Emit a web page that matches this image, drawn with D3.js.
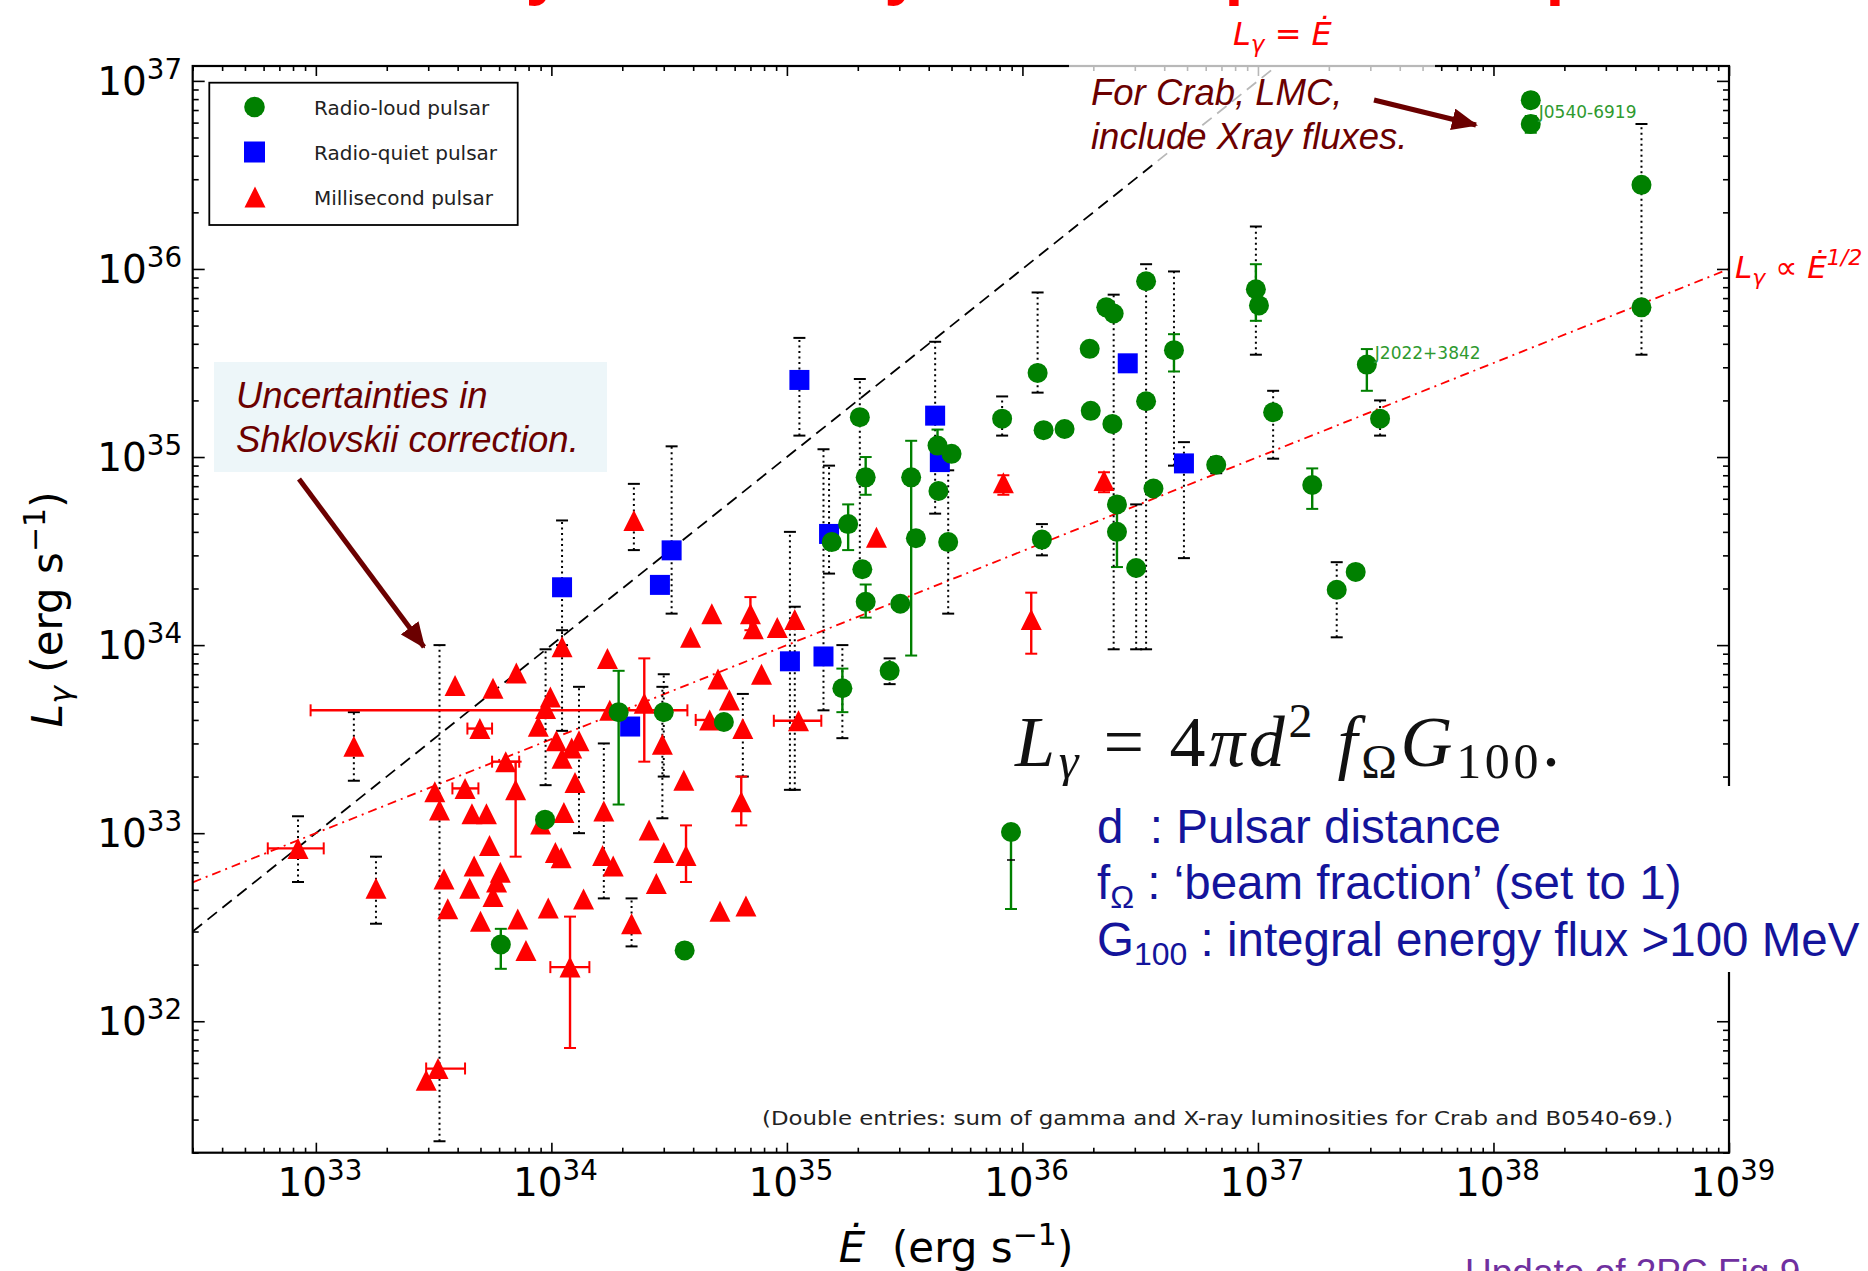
<!DOCTYPE html>
<html>
<head>
<meta charset="utf-8">
<script src="https://cdn.jsdelivr.net/npm/d3@7"></script>
<style>
  html, body { margin: 0; padding: 0; background: #fff; }
  svg { display: block; }
</style>
</head>
<body>
<svg id="chart" width="1868" height="1271"></svg>
<script>
// ---------------------------------------------------------------------------
// Data: gamma-ray luminosity vs spin-down power for Fermi pulsars
// ---------------------------------------------------------------------------

// Radio-loud pulsars: [Edot, Lgamma, dotted low, dotted high, bar low, bar high]
const radioLoud = [
  [1.44e38, 7.9e36, null, null, 7.3e36, 8.6e36],
  [1.44e38, 5.9e36, null, null, 5.3e36, 6.5e36],
  [4.25e38, 2.8e36, 3.5e35, 5.9e36, null, null],
  [4.25e38, 6.25e35, null, null, null, null],
  [2.9e37, 3.1e35, null, null, 2.25e35, 3.75e35],
  [3.3e37, 1.6e35, 1.3e35, 2.0e35, null, null],
  [2.6e37, 2.45e34, null, null, null, null],
  [2.16e37, 1.97e34, 1.1e34, 2.76e34, null, null],
  [1.7e37, 7.1e34, null, null, 5.3e34, 8.7e34],
  [1.16e37, 1.73e35, 9.8e34, 2.25e35, null, null],
  [9.8e36, 7.8e35, 3.5e35, 1.68e36, 5.3e35, 1.06e36],
  [1.01e37, 6.4e35, null, null, null, null],
  [6.65e36, 9.1e34, 8.2e34, 1.0e35, null, null],
  [4.4e36, 3.7e35, 9.0e34, 9.7e35, 2.85e35, 4.5e35],
  [3.35e36, 8.6e35, 9.5e33, 1.06e36, null, null],
  [3.35e36, 1.98e35, null, null, null, null],
  [3.6e36, 6.8e34, null, null, null, null],
  [3.04e36, 2.57e34, 9.5e33, 5.6e34, null, null],
  [2.52e36, 4.0e34, null, null, 2.6e34, 5.5e34],
  [2.52e36, 5.6e34, null, null, null, null],
  [2.41e36, 1.5e35, null, null, null, null],
  [2.27e36, 6.25e35, null, null, null, null],
  [2.44e36, 5.8e35, 9.5e33, 7.3e35, null, null],
  [1.93e36, 3.76e35, null, null, null, null],
  [1.95e36, 1.76e35, null, null, null, null],
  [1.16e36, 2.8e35, 2.2e35, 7.5e35, null, null],
  [1.23e36, 1.39e35, null, null, null, null],
  [1.51e36, 1.41e35, null, null, null, null],
  [8.2e35, 1.6e35, 1.3e35, 2.1e35, null, null],
  [1.21e36, 3.64e34, 3.0e34, 4.4e34, null, null],
  [5.0e35, 1.04e35, null, null, null, null],
  [4.36e35, 1.15e35, null, null, 9.0e34, 1.4e35],
  [4.4e35, 6.6e34, null, null, null, null],
  [4.84e35, 3.53e34, 1.47e34, 8.5e34, null, null],
  [3.53e35, 3.7e34, null, null, null, null],
  [3.37e35, 7.8e34, null, null, 8.8e33, 1.22e35],
  [3.03e35, 1.66e34, null, null, null, null],
  [2.73e35, 7.3e33, 6.2e33, 8.5e33, null, null],
  [2.16e35, 7.8e34, null, null, 6.3e34, 1.0e35],
  [2.16e35, 1.7e34, null, null, 1.4e34, 2.1e34],
  [2.09e35, 2.53e34, null, null, null, null],
  [1.82e35, 4.4e34, null, null, 3.2e34, 5.6e34],
  [2.04e35, 1.63e35, 2.5e34, 2.6e35, null, null],
  [1.55e35, 3.53e34, null, null, null, null],
  [1.72e35, 5.9e33, 3.2e33, 1.0e34, 4.4e33, 7.5e33],
  [5.4e34, 3.9e33, null, null, null, null],
  [3.0e34, 4.4e33, 2.0e33, 7.0e33, null, null],
  [1.93e34, 4.4e33, null, null, 1.42e33, 7.3e33],
  [9.4e33, 1.18e33, null, null, null, null],
  [6.1e33, 2.56e32, null, null, 1.9e32, 3.1e32],
  [3.68e34, 2.38e32, null, null, null, null]
];

// Radio-quiet pulsars: [Edot, Lgamma, dotted low, dotted high]
const radioQuiet = [
  [1.11e34, 2.03e34, 1.0e34, 4.6e34],
  [3.24e34, 3.19e34, 1.47e34, 1.14e35],
  [2.89e34, 2.09e34, null, null],
  [2.16e34, 3.69e33, null, null],
  [1.13e35, 2.57e35, 1.3e35, 4.3e35],
  [1.51e35, 3.9e34, 2.4e34, 9.0e34],
  [1.03e35, 8.2e33, 1.7e33, 4.0e34],
  [1.43e35, 8.7e33, 4.5e33, 1.1e35],
  [4.26e35, 1.66e35, 5.0e34, 4.1e35],
  [4.46e35, 9.4e34, null, null],
  [2.8e36, 3.15e35, null, null],
  [4.85e36, 9.25e34, 2.9e34, 1.2e35]
];

// Millisecond pulsars: [Edot, Lgamma, dotted low, dotted high, bar low, bar high, Edot low, Edot high]
const millisecond = [
  [8.4e32, 8.3e32, 5.5e32, 1.23e33, null, null, 6.25e32, 1.08e33],
  [1.45e33, 2.9e33, 1.9e33, 4.4e33, null, null, null, null],
  [1.8e33, 5.1e32, 3.3e32, 7.5e32, null, null, null, null],
  [2.94e33, 4.85e31, null, null, null, null, null, null],
  [3.3e33, 5.6e31, null, null, null, null, 2.94e33, 4.3e33],
  [3.9e33, 6.1e33, null, null, null, null, null, null],
  [5.65e33, 5.9e33, null, null, null, null, null, null],
  [7.1e33, 7.1e33, null, null, null, null, null, null],
  [3.2e33, 1.66e33, null, null, null, null, null, null],
  [3.35e33, 1.33e33, 2.3e31, 1.0e34, null, null, null, null],
  [3.5e33, 5.7e32, null, null, null, null, null, null],
  [3.63e33, 3.96e32, null, null, null, null, null, null],
  [4.3e33, 1.73e33, null, null, null, null, 3.8e33, 4.9e33],
  [4.6e33, 1.27e33, null, null, null, null, null, null],
  [4.97e33, 3.6e33, null, null, null, null, 4.4e33, 5.6e33],
  [4.7e33, 6.7e32, null, null, null, null, null, null],
  [5.3e33, 1.27e33, null, null, null, null, null, null],
  [5.46e33, 8.6e32, null, null, null, null, null, null],
  [5.85e33, 5.5e32, null, null, null, null, null, null],
  [6.07e33, 6.2e32, null, null, null, null, null, null],
  [5.65e33, 4.6e32, null, null, null, null, null, null],
  [4.5e33, 5.1e32, null, null, null, null, null, null],
  [5.0e33, 3.4e32, null, null, null, null, null, null],
  [6.4e33, 2.4e33, null, null, null, null, 5.6e33, 7.3e33],
  [7.05e33, 1.7e33, null, null, 7.5e32, 2.4e33, null, null],
  [7.2e33, 3.5e32, null, null, null, null, null, null],
  [7.8e33, 2.38e32, null, null, null, null, null, null],
  [8.8e33, 3.7e33, null, null, null, null, null, null],
  [9.45e33, 4.6e33, 1.8e33, 9.5e33, null, null, null, null],
  [9.9e33, 5.3e33, null, null, null, null, null, null],
  [9.0e33, 1.12e33, null, null, null, null, null, null],
  [9.7e33, 4.0e32, null, null, null, null, null, null],
  [1.04e34, 7.9e32, null, null, null, null, null, null],
  [1.1e34, 7.4e32, null, null, null, null, null, null],
  [1.11e34, 9.8e33, 3.5e33, 1.2e34, null, null, null, null],
  [1.05e34, 3.1e33, null, null, null, null, null, null],
  [1.11e34, 2.5e33, null, null, null, null, null, null],
  [1.22e34, 2.84e33, null, null, null, null, null, null],
  [1.31e34, 3.1e33, 1.0e33, 6.0e33, null, null, null, null],
  [1.26e34, 1.86e33, null, null, null, null, null, null],
  [1.13e34, 1.29e33, null, null, null, null, null, null],
  [1.2e34, 1.94e32, null, null, 7.2e31, 3.6e32, 9.9e33, 1.45e34],
  [1.37e34, 4.46e32, null, null, null, null, null, null],
  [1.65e34, 7.6e32, null, null, null, null, null, null],
  [1.67e34, 1.31e33, 4.5e32, 3.0e33, null, null, null, null],
  [1.73e34, 8.5e33, null, null, null, null, null, null],
  [1.83e34, 6.7e32, null, null, null, null, null, null],
  [1.77e34, 4.5e33, null, null, null, null, 9.5e32, 3.78e34],
  [2.24e34, 4.6e34, 3.2e34, 7.2e34, null, null, null, null],
  [2.19e34, 3.3e32, 2.5e32, 4.5e32, null, null, null, null],
  [2.48e34, 4.9e33, null, null, 2.4e33, 8.5e33, null, null],
  [2.6e34, 1.04e33, null, null, null, null, null, null],
  [2.79e34, 5.4e32, null, null, null, null, null, null],
  [3.0e34, 7.9e32, null, null, null, null, null, null],
  [2.96e34, 2.97e33, 1.2e33, 6.0e33, null, null, null, null],
  [3.65e34, 1.91e33, null, null, null, null, null, null],
  [3.73e34, 7.6e32, null, null, 5.5e32, 1.1e33, null, null],
  [3.9e34, 1.1e34, null, null, null, null, null, null],
  [4.8e34, 1.47e34, null, null, null, null, null, null],
  [4.7e34, 4.0e33, null, null, null, null, 4.1e34, 5.4e34],
  [5.1e34, 6.6e33, null, null, null, null, null, null],
  [5.7e34, 5.1e33, null, null, null, null, null, null],
  [5.2e34, 3.85e32, null, null, null, null, null, null],
  [6.5e34, 3.6e33, 2.0e33, 5.5e33, null, null, null, null],
  [6.4e34, 1.47e33, null, null, 1.1e33, 2.0e33, null, null],
  [6.7e34, 4.1e32, null, null, null, null, null, null],
  [7.0e34, 1.47e34, null, null, 1.2e34, 1.8e34, null, null],
  [7.2e34, 1.22e34, null, null, null, null, null, null],
  [7.8e34, 7.0e33, null, null, null, null, null, null],
  [9.1e34, 1.24e34, null, null, null, null, null, null],
  [1.08e35, 1.37e34, 1.7e33, 1.6e34, null, null, null, null],
  [1.12e35, 3.96e33, null, null, null, null, 8.8e34, 1.4e35],
  [2.4e35, 3.74e34, null, null, null, null, null, null],
  [8.3e35, 7.3e34, null, null, 6.3e34, 8.0e34, null, null],
  [1.09e36, 1.37e34, null, null, 9.0e33, 1.9e34, null, null],
  [2.22e36, 7.5e34, null, null, 6.5e34, 8.3e34, null, null]
];

// Named sources: [Edot, Lgamma, label, label shift]
const namedSources = [
  [1.44e38, 6.8e36, "J0540-6919", 6],
  [2.9e37, 3.1e35, "J2022+3842", -6]
];

// Axis ranges and tick exponents
const xDomain = [3e32, 1e39];
const yDomain = [2e31, 1.2e37];
const xTickExps = [33, 34, 35, 36, 37, 38, 39];
const yTickExps = [32, 33, 34, 35, 36, 37];

const legendItems = ["Radio-loud pulsar", "Radio-quiet pulsar", "Millisecond pulsar"];
const formulaNotes = [
  ["d", "", "\u00A0 : Pulsar distance"],
  ["f", "\u03A9", " : \u2018beam fraction\u2019 (set to 1)"],
  ["G", "100", " : integral energy flux >100 MeV"]
];

// ---------------------------------------------------------------------------
// Layout
// ---------------------------------------------------------------------------
const plot = { left: 192.7, right: 1729, top: 66, bottom: 1152.7 };
const GREEN = "#008000", BLUE = "#0000ff", RED = "#ff0000", MAROON = "#6b0000";
const svg = d3.select("#chart");

const x = d3.scaleLog().domain(xDomain).range([plot.left, plot.right]);
const y = d3.scaleLog().domain(yDomain).range([plot.bottom, plot.top]);

const defs = svg.append("defs");
defs.append("clipPath").attr("id", "plotClip")
  .append("rect")
  .attr("x", plot.left).attr("y", plot.top)
  .attr("width", plot.right - plot.left).attr("height", plot.bottom - plot.top);
defs.append("marker")
  .attr("id", "arrowHead")
  .attr("markerUnits", "userSpaceOnUse")
  .attr("markerWidth", 26).attr("markerHeight", 22)
  .attr("refX", 24).attr("refY", 11)
  .attr("orient", "auto")
  .append("path").attr("d", "M0,0 L26,11 L0,22 Z").attr("fill", MAROON);

// Slide title running off the top edge
svg.append("text")
  .attr("x", 189).attr("y", -8)
  .attr("font-family", "Liberation Sans, Arial, sans-serif")
  .attr("font-weight", "bold")
  .attr("font-size", 68)
  .attr("fill", RED)
  .text("Gamma-ray luminosity versus Spin-down power");

// ---------------------------------------------------------------------------
// Reference lines
// ---------------------------------------------------------------------------
const clipped = svg.append("g").attr("clip-path", "url(#plotClip)");
const lineGen = d3.line().x(d => x(d[0])).y(d => y(d[1]));

// L = Edot
clipped.append("path")
  .datum(xDomain.map(e => [e, e]))
  .attr("d", lineGen)
  .attr("fill", "none").attr("stroke", "#000")
  .attr("stroke-width", 1.8).attr("stroke-dasharray", "12,7");

// L proportional to Edot^(1/2)
clipped.append("path")
  .datum(xDomain.map(e => [e, Math.sqrt(e * 1e33)]))
  .attr("d", lineGen)
  .attr("fill", "none").attr("stroke", RED)
  .attr("stroke-width", 1.8).attr("stroke-dasharray", "9,5,2,5");

// ---------------------------------------------------------------------------
// Error bars
// ---------------------------------------------------------------------------
const bars = clipped.append("g");
const CAP = 6;

function vBar(ev, lo, hi, color, dotted) {
  if (lo == null || hi == null) return;
  const px = x(ev);
  bars.append("line")
    .attr("x1", px).attr("x2", px).attr("y1", y(lo)).attr("y2", y(hi))
    .attr("stroke", color).attr("stroke-width", dotted ? 2 : 2.4)
    .attr("stroke-dasharray", dotted ? "2,3.5" : null);
  [lo, hi].forEach(v => {
    bars.append("line")
      .attr("x1", px - CAP).attr("x2", px + CAP).attr("y1", y(v)).attr("y2", y(v))
      .attr("stroke", color).attr("stroke-width", 2);
  });
}
function hBar(lv, lo, hi, color) {
  if (lo == null || hi == null) return;
  const py = y(lv);
  bars.append("line")
    .attr("x1", x(lo)).attr("x2", x(hi)).attr("y1", py).attr("y2", py)
    .attr("stroke", color).attr("stroke-width", 2.4);
  [lo, hi].forEach(v => {
    bars.append("line")
      .attr("x1", x(v)).attr("x2", x(v)).attr("y1", py - CAP).attr("y2", py + CAP)
      .attr("stroke", color).attr("stroke-width", 2);
  });
}

millisecond.forEach(d => {
  vBar(d[0], d[2], d[3], "#000", true);
  vBar(d[0], d[4], d[5], RED, false);
  hBar(d[1], d[6], d[7], RED);
});
radioQuiet.forEach(d => vBar(d[0], d[2], d[3], "#000", true));
radioLoud.forEach(d => {
  vBar(d[0], d[2], d[3], "#000", true);
  vBar(d[0], d[4], d[5], GREEN, false);
});

// ---------------------------------------------------------------------------
// Markers
// ---------------------------------------------------------------------------
const TRI = 21, SQ = 20, RAD = 10;
const triPath = `M0,${-TRI / 2}L${TRI / 2},${TRI / 2}L${-TRI / 2},${TRI / 2}Z`;
const marks = clipped.append("g");

marks.selectAll("path.msp").data(millisecond).join("path")
  .attr("class", "msp")
  .attr("d", triPath)
  .attr("transform", d => `translate(${x(d[0])},${y(d[1])})`)
  .attr("fill", RED);

marks.selectAll("rect.rq").data(radioQuiet).join("rect")
  .attr("class", "rq")
  .attr("x", d => x(d[0]) - SQ / 2).attr("y", d => y(d[1]) - SQ / 2)
  .attr("width", SQ).attr("height", SQ)
  .attr("fill", BLUE);

marks.selectAll("circle.rl").data(radioLoud).join("circle")
  .attr("class", "rl")
  .attr("cx", d => x(d[0])).attr("cy", d => y(d[1]))
  .attr("r", RAD)
  .attr("fill", GREEN);

// Source name labels
svg.selectAll("text.src").data(namedSources).join("text")
  .attr("class", "src")
  .attr("x", d => x(d[0]) + 8).attr("y", d => y(d[1]) + d[3])
  .attr("font-family", "DejaVu Sans, sans-serif")
  .attr("font-size", 17)
  .attr("fill", "#2f9a2f")
  .text(d => d[2]);

// ---------------------------------------------------------------------------
// Frame and ticks (inward, all four sides)
// ---------------------------------------------------------------------------
function minorTicks(dom) {
  const out = [];
  const e0 = Math.floor(Math.log10(dom[0])), e1 = Math.ceil(Math.log10(dom[1]));
  for (let e = e0; e <= e1; e++)
    for (let m = 2; m <= 9; m++) {
      const v = m * Math.pow(10, e);
      if (v >= dom[0] && v <= dom[1]) out.push(v);
    }
  return out;
}
const xMajor = xTickExps.map(e => Math.pow(10, e)).filter(v => v >= xDomain[0] && v <= xDomain[1]);
const yMajor = yTickExps.map(e => Math.pow(10, e)).filter(v => v >= yDomain[0] && v <= yDomain[1]);
const xMinor = minorTicks(xDomain), yMinor = minorTicks(yDomain);

const axes = svg.append("g");
function addAxis(gen, tx, ty, vals, size) {
  const g = axes.append("g").attr("transform", `translate(${tx},${ty})`)
    .call(gen.tickValues(vals).tickSize(-size).tickFormat(""));
  g.select(".domain").remove();
  g.selectAll(".tick line").attr("stroke", "#000").attr("stroke-width", 1.6);
}
addAxis(d3.axisBottom(x), 0, plot.bottom, xMajor, 10);
addAxis(d3.axisBottom(x), 0, plot.bottom, xMinor, 5);
addAxis(d3.axisTop(x), 0, plot.top, xMajor, 10);
addAxis(d3.axisTop(x), 0, plot.top, xMinor, 5);
addAxis(d3.axisLeft(y), plot.left, 0, yMajor, 12);
addAxis(d3.axisLeft(y), plot.left, 0, yMinor, 6);
addAxis(d3.axisRight(y), plot.right, 0, yMajor, 12);
addAxis(d3.axisRight(y), plot.right, 0, yMinor, 6);

axes.append("rect")
  .attr("x", plot.left).attr("y", plot.top)
  .attr("width", plot.right - plot.left).attr("height", plot.bottom - plot.top)
  .attr("fill", "none").attr("stroke", "#000").attr("stroke-width", 2.2);

// Tick labels as powers of ten
function powLabel(px, py, exp, anchor, size) {
  const t = axes.append("text")
    .attr("x", px).attr("y", py)
    .attr("text-anchor", anchor)
    .attr("font-family", "DejaVu Sans, sans-serif")
    .attr("font-size", size).attr("fill", "#000");
  t.append("tspan").text("10");
  t.append("tspan").attr("dy", -size * 0.42).attr("font-size", size * 0.71).text(exp);
}
xTickExps.forEach(e => powLabel(x(Math.pow(10, e)) + 4, 1196, e, "middle", 39));
yTickExps.forEach(e => powLabel(182, y(Math.pow(10, e)) + 14, e, "end", 39));

// Axis titles
const yTitle = axes.append("text")
  .attr("transform", `translate(62,${(plot.top + plot.bottom) / 2}) rotate(-90)`)
  .attr("text-anchor", "middle")
  .attr("font-family", "DejaVu Sans, sans-serif")
  .attr("font-size", 42).attr("fill", "#000");
yTitle.append("tspan").attr("font-style", "italic").text("L");
yTitle.append("tspan").attr("font-style", "italic").attr("font-size", 30).attr("dy", 9).text("\u03B3");
yTitle.append("tspan").attr("dy", -9).text(" (erg s");
yTitle.append("tspan").attr("font-size", 30).attr("dy", -17).text("\u22121");
yTitle.append("tspan").attr("dy", 17).text(")");

const xTitle = axes.append("text")
  .attr("x", 956).attr("y", 1262)
  .attr("text-anchor", "middle")
  .attr("font-family", "DejaVu Sans, sans-serif")
  .attr("font-size", 42).attr("fill", "#000");
xTitle.append("tspan").attr("font-style", "italic").text("\u0116");
xTitle.append("tspan").text("\u00A0 (erg s");
xTitle.append("tspan").attr("font-size", 30).attr("dy", -17).text("\u22121");
xTitle.append("tspan").attr("dy", 17).text(")");

// ---------------------------------------------------------------------------
// Legend
// ---------------------------------------------------------------------------
const legend = svg.append("g");
legend.append("rect")
  .attr("x", 209.3).attr("y", 82.7).attr("width", 308.4).attr("height", 142.3)
  .attr("fill", "#fff").attr("stroke", "#000").attr("stroke-width", 1.8);
const legendY = [107, 152, 197];
legend.append("circle").attr("cx", 254.5).attr("cy", legendY[0]).attr("r", 10.3).attr("fill", GREEN);
legend.append("rect").attr("x", 244).attr("y", legendY[1] - 10.5).attr("width", 21).attr("height", 21).attr("fill", BLUE);
legend.append("path").attr("d", triPath).attr("transform", `translate(255,${legendY[2]})`).attr("fill", RED);
legend.selectAll("text").data(legendItems).join("text")
  .attr("x", 314).attr("y", (d, i) => legendY[i] + 8)
  .attr("font-family", "DejaVu Sans, sans-serif")
  .attr("font-size", 20).attr("fill", "#222")
  .text(d => d);

// ---------------------------------------------------------------------------
// Line labels and notes
// ---------------------------------------------------------------------------
const lab1 = svg.append("text")
  .attr("x", 1233).attr("y", 45)
  .attr("font-family", "DejaVu Sans, sans-serif")
  .attr("font-size", 32).attr("fill", RED).attr("font-style", "italic");
lab1.append("tspan").text("L");
lab1.append("tspan").attr("font-size", 23).attr("dy", 7).text("\u03B3");
lab1.append("tspan").attr("dy", -7).text(" = \u0116");

const lab2 = svg.append("text")
  .attr("x", 1735).attr("y", 278)
  .attr("font-family", "DejaVu Sans, sans-serif")
  .attr("font-size", 31).attr("fill", RED).attr("font-style", "italic");
lab2.append("tspan").text("L");
lab2.append("tspan").attr("font-size", 22).attr("dy", 7).text("\u03B3");
lab2.append("tspan").attr("dy", -7).text(" \u221D \u0116");
lab2.append("tspan").attr("font-size", 22).attr("dy", -13).text("1/2");

svg.append("text")
  .attr("x", 762).attr("y", 1125)
  .attr("font-family", "DejaVu Sans, sans-serif")
  .attr("font-size", 19.5).attr("fill", "#222")
  .attr("textLength", 911).attr("lengthAdjust", "spacingAndGlyphs")
  .text("(Double entries: sum of gamma and X-ray luminosities for Crab and B0540-69.)");

// Faded panel behind the Crab / LMC note
svg.append("rect")
  .attr("x", 1069).attr("y", 58).attr("width", 366).attr("height", 105)
  .attr("fill", "#fff").attr("opacity", 0.72);

const crabNote = svg.append("text")
  .attr("font-family", "Liberation Sans, Arial, sans-serif")
  .attr("font-size", 36.5).attr("font-style", "italic").attr("fill", MAROON);
crabNote.append("tspan").attr("x", 1091).attr("y", 105).text("For Crab, LMC,");
crabNote.append("tspan").attr("x", 1091).attr("y", 149).text("include Xray fluxes.");
svg.append("line")
  .attr("x1", 1374).attr("y1", 100).attr("x2", 1476).attr("y2", 125)
  .attr("stroke", MAROON).attr("stroke-width", 5)
  .attr("marker-end", "url(#arrowHead)");

// Shklovskii note
svg.append("rect")
  .attr("x", 214).attr("y", 362).attr("width", 393).attr("height", 110)
  .attr("fill", "#edf6f9");
const shkNote = svg.append("text")
  .attr("font-family", "Liberation Sans, Arial, sans-serif")
  .attr("font-size", 36.5).attr("font-style", "italic").attr("fill", MAROON);
shkNote.append("tspan").attr("x", 236).attr("y", 408).text("Uncertainties in");
shkNote.append("tspan").attr("x", 236).attr("y", 452).text("Shklovskii correction.");
svg.append("line")
  .attr("x1", 299).attr("y1", 479).attr("x2", 424).attr("y2", 647)
  .attr("stroke", MAROON).attr("stroke-width", 5)
  .attr("marker-end", "url(#arrowHead)");

// Luminosity formula
const formula = svg.append("text")
  .attr("x", 1015).attr("y", 766)
  .attr("font-family", "Liberation Serif, Times New Roman, serif")
  .attr("font-size", 72).attr("fill", "#111")
  .attr("textLength", 545).attr("lengthAdjust", "spacing");
formula.append("tspan").attr("font-style", "italic").text("L");
formula.append("tspan").attr("font-style", "italic").attr("font-size", 50).attr("dy", 12).text("\u03B3");
formula.append("tspan").attr("dy", -12).text(" = 4");
formula.append("tspan").attr("font-style", "italic").text("\u03C0d");
formula.append("tspan").attr("font-size", 48).attr("dy", -29).text("2");
formula.append("tspan").attr("font-style", "italic").attr("dy", 29).text(" f");
formula.append("tspan").attr("font-size", 48).attr("dy", 12).text("\u03A9");
formula.append("tspan").attr("font-style", "italic").attr("dy", -12).text("G");
formula.append("tspan").attr("font-size", 50).attr("dy", 12).text("100");
formula.append("tspan").attr("dy", -12).text(".");

// Panel of formula notes
svg.append("rect")
  .attr("x", 985).attr("y", 786).attr("width", 883).attr("height", 186)
  .attr("fill", "#fff");
const demo = svg.append("g");
demo.append("line").attr("x1", 1011).attr("x2", 1011).attr("y1", 832).attr("y2", 909)
  .attr("stroke", GREEN).attr("stroke-width", 2.4);
demo.append("line").attr("x1", 1005).attr("x2", 1017).attr("y1", 909).attr("y2", 909)
  .attr("stroke", GREEN).attr("stroke-width", 2);
demo.append("line").attr("x1", 1007).attr("x2", 1015).attr("y1", 860).attr("y2", 860)
  .attr("stroke", "#000").attr("stroke-width", 1.5);
demo.append("circle").attr("cx", 1011).attr("cy", 832).attr("r", 10).attr("fill", GREEN);

const noteY = [843, 899, 956];
formulaNotes.forEach((n, i) => {
  const t = svg.append("text")
    .attr("x", 1097).attr("y", noteY[i])
    .attr("font-family", "Liberation Sans, Arial, sans-serif")
    .attr("font-size", 47.5).attr("fill", "#14149b");
  t.append("tspan").text(n[0]);
  if (n[1]) {
    t.append("tspan").attr("font-size", 32).attr("dy", 9).text(n[1]);
    t.append("tspan").attr("dy", -9).text(n[2]);
  } else {
    t.append("tspan").text(n[2]);
  }
});

// Footnote running off the bottom edge
svg.append("text")
  .attr("x", 1465).attr("y", 1285)
  .attr("font-family", "Liberation Sans, Arial, sans-serif")
  .attr("font-size", 37).attr("fill", "#7030a0")
  .text("Update of 2PC Fig 9");
</script>
</body>
</html>
